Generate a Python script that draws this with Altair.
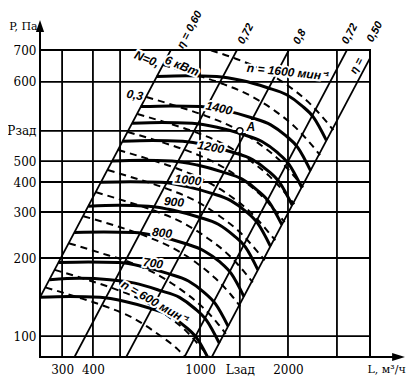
import altair as alt
import pandas as pd

# ---------------- axis ticks ----------------
X_GRID = [301, 390, 490, 959, 2008, 3030]
Y_GRID = [100, 200, 301, 393, 473, 956]
X_TICKS = [301, 390, 959, 1340, 2008]
X_LABELS = ["300", "400", "1000", "Lзад", "2000"]
Y_TICKS = [100, 200, 301, 393, 473, 619, 956, 1270]
Y_LABELS = ["100", "200", "300", "400", "500", "Рзад", "600", "700"]
L_ZAD = 1340
P_ZAD = 619

# ---------------- fan characteristics, n = const (solid) ----------------
N_SPEEDS = ["600", "650", "700", "800", "900", "1000", "1100", "1200", "1300", "1400", "1600"]
L_N = {
    "600":  [250, 321, 414, 511, 630, 745, 845, 935, 1040],
    "650":  [271, 348, 449, 554, 683, 807, 915, 1013, 1127],
    "700":  [292, 375, 483, 597, 735, 870, 987, 1092, 1215],
    "800":  [333, 428, 552, 681, 840, 993, 1127, 1247, 1387],
    "900":  [375, 482, 621, 767, 945, 1118, 1268, 1403, 1560],
    "1000": [417, 535, 690, 852, 1050, 1242, 1408, 1558, 1733],
    "1100": [458, 589, 759, 937, 1155, 1366, 1549, 1714, 1907],
    "1200": [500, 642, 828, 1022, 1260, 1490, 1690, 1870, 2080],
    "1300": [542, 696, 897, 1107, 1365, 1614, 1831, 2026, 2253],
    "1400": [583, 749, 966, 1192, 1470, 1738, 1972, 2182, 2427],
    "1600": [667, 856, 1104, 1363, 1680, 1987, 2253, 2493, 2773],
}
P_N = {
    "600":  [141, 142, 141, 136, 128, 120, 109, 98, 80],
    "650":  [165, 167, 165, 160, 150, 141, 128, 115, 94],
    "700":  [192, 193, 192, 185, 174, 163, 148, 133, 109],
    "800":  [251, 252, 251, 242, 228, 213, 194, 174, 142],
    "900":  [317, 320, 317, 306, 288, 270, 245, 221, 180],
    "1000": [392, 394, 392, 378, 356, 333, 303, 272, 222],
    "1100": [474, 477, 474, 457, 430, 403, 366, 329, 269],
    "1200": [564, 568, 564, 544, 512, 480, 436, 392, 320],
    "1300": [662, 667, 662, 639, 601, 563, 512, 460, 375],
    "1400": [768, 773, 768, 741, 697, 653, 593, 534, 435],
    "1600": [1003, 1010, 1003, 968, 910, 853, 775, 697, 569],
}

# ---------------- power lines, N = const (dashed) ----------------
L_D = {
    "d0":  [787, 1013, 1302, 1648, 2016, 2385, 2723, 2939],
    "d1":  [704, 906, 1165, 1474, 1804, 2133, 2436, 2629],
    "d2":  [611, 786, 1011, 1279, 1565, 1851, 2114, 2282],
    "d3":  [567, 730, 938, 1187, 1453, 1718, 1962, 2118],
    "d4":  [523, 673, 866, 1095, 1340, 1585, 1810, 1953],
    "d5":  [483, 622, 799, 1011, 1237, 1463, 1671, 1804],
    "d6":  [442, 569, 732, 926, 1132, 1339, 1529, 1651],
    "d7":  [400, 515, 662, 838, 1025, 1212, 1384, 1494],
    "d8":  [360, 463, 596, 754, 922, 1091, 1246, 1345],
    "d9":  [319, 411, 528, 668, 817, 967, 1104, 1191],
    "d10": [283, 364, 468, 593, 725, 857, 979, 1057],
    "d11": [262, 337, 434, 549, 671, 794, 907, 979],
}
P_D = {
    "d0":  [1388, 1281, 1173, 1053, 922, 799, 687, 623],
    "d1":  [1111, 1025, 939, 843, 738, 640, 550, 499],
    "d2":  [836, 772, 706, 635, 555, 482, 414, 375],
    "d3":  [719, 664, 608, 546, 477, 414, 356, 323],
    "d4":  [613, 566, 518, 465, 407, 353, 303, 275],
    "d5":  [522, 482, 441, 396, 347, 301, 258, 234],
    "d6":  [437, 403, 369, 332, 290, 252, 216, 196],
    "d7":  [359, 331, 303, 272, 238, 207, 178, 161],
    "d8":  [290, 268, 245, 220, 193, 167, 144, 130],
    "d9":  [228, 210, 193, 173, 151, 131, 113, 102],
    "d10": [180, 166, 152, 137, 120, 104, 89, 81],
    "d11": [154, 142, 130, 117, 102, 89, 76, 69],
}

# ---------------- efficiency lines (straight, P ~ L^2) ----------------
ETA_IDS = ["0,60", "0,72a", "0,8", "0,72b", "0,50"]
ETA_L = {"0,60": [250, 770], "0,72a": [300, 1400], "0,8": [500, 2100],
         "0,72b": [800, 3400], "0,50": [1000, 4200]}
ETA_P = {"0,60": [141, 1337], "0,72a": [67, 1454], "0,8": [78, 1367],
         "0,72b": [75, 1351], "0,50": [74, 1302]}

# ---------------- annotations ----------------
CURVE_TEXT = ["N=0,", "6 кВт", "0,3", "1400", "1200", "1000", "900", "800", "700",
              "n = 600 мин⁻¹", "n = 1600 мин⁻¹", "A"]
CURVE_TEXT_L = [614, 824, 555, 1125, 1051, 867, 771, 697, 646, 657, 2008, 1471]
CURVE_TEXT_P = [1172, 1102, 851, 758, 536, 400, 329, 250, 191, 135, 1044, 640]
CURVE_TEXT_ANGLE = [22, 22, 10, 12, 10, 6, 5, 6, 8, 30, 6, 0]

ETA_TEXT = ["η = 0,60", "0,72", "0,8", "0,72", "0,50", "η ="]
ETA_TEXT_L = [881, 1411, 2221, 3380, 4170, 3585]
ETA_TEXT_P = [1517, 1464, 1426, 1464, 1491, 1102]

# ---------------- build tables ----------------
solid = pd.DataFrame([
    {"n": n, "i": i, "L": l, "P": p}
    for n in N_SPEEDS for i, (l, p) in enumerate(zip(L_N[n], P_N[n]))
])
dashed = pd.DataFrame([
    {"d": d, "i": i, "L": l, "P": p}
    for d in L_D for i, (l, p) in enumerate(zip(L_D[d], P_D[d]))
])
eta = pd.DataFrame([
    {"e": e, "i": i, "L": l, "P": p}
    for e in ETA_IDS for i, (l, p) in enumerate(zip(ETA_L[e], ETA_P[e]))
])
ctext = pd.DataFrame({"t": CURVE_TEXT, "L": CURVE_TEXT_L, "P": CURVE_TEXT_P, "a": CURVE_TEXT_ANGLE})
etext = pd.DataFrame({"t": ETA_TEXT, "L": ETA_TEXT_L, "P": ETA_TEXT_P})

xs = alt.Scale(type="log", domain=[250, 4000], nice=False)
ys = alt.Scale(type="log", domain=[83, 1270], nice=False)


def expr(vals, labs):
    s = "''"
    for v, t in reversed(list(zip(vals, labs))):
        s = f"datum.value == {v} ? '{t}' : ({s})"
    return s


xaxis = alt.Axis(values=X_TICKS, labelExpr=expr(X_TICKS, X_LABELS), title=None, grid=False,
                 ticks=False, tickSize=0, domain=False, labelFont="DejaVu Serif", labelFontSize=12,
                 labelColor="black", labelPadding=7, labelOverlap=False, labelFlush=False)
yaxis = alt.Axis(values=Y_TICKS, labelExpr=expr(Y_TICKS, Y_LABELS), title=None, grid=False,
                 ticks=False, tickSize=0, domain=False, labelFont="DejaVu Serif", labelFontSize=12,
                 labelColor="black", labelPadding=4, labelOverlap=False, labelFlush=False)


def X(f="L"):
    return alt.X(f"{f}:Q", scale=xs, axis=xaxis)


def Y(f="P"):
    return alt.Y(f"{f}:Q", scale=ys, axis=yaxis)


hgrid = alt.Chart(pd.DataFrame({"P": Y_GRID})).mark_rule(color="black", strokeWidth=1.8).encode(y=Y())
vgrid = alt.Chart(pd.DataFrame({"L": X_GRID})).mark_rule(color="black", strokeWidth=1.8).encode(x=X())
zad_h = alt.Chart(pd.DataFrame({"L": [250], "L2": [L_ZAD], "P": [P_ZAD]})).mark_rule(
    color="black", strokeWidth=1.8).encode(x=X(), x2="L2:Q", y=Y())
zad_v = alt.Chart(pd.DataFrame({"L": [L_ZAD], "P": [83], "P2": [P_ZAD]})).mark_rule(
    color="black", strokeWidth=1.8).encode(x=X(), y=Y(), y2="P2:Q")

eta_lines = alt.Chart(eta).mark_line(color="black", strokeWidth=1.8, clip=True).encode(
    x=X(), y=Y(), detail="e:N", order="i:Q")
dash_lines = alt.Chart(dashed).mark_line(color="black", strokeWidth=2, strokeDash=[7, 5],
                                         interpolate="monotone", clip=True).encode(
    x=X(), y=Y(), detail="d:N", order="i:Q")
solid_lines = alt.Chart(solid).mark_line(color="black", strokeWidth=3, interpolate="monotone",
                                         clip=True).encode(
    x=X(), y=Y(), detail="n:N", order="i:Q")

point_a = alt.Chart(pd.DataFrame({"L": [L_ZAD], "P": [P_ZAD]})).mark_point(
    shape="circle", size=40, filled=True, fill="white", stroke="black", strokeWidth=1.5, opacity=1
).encode(x=X(), y=Y())

lab_font = "'Liberation Sans Narrow', 'Liberation Sans', sans-serif"
halo = alt.Chart(ctext).mark_text(font=lab_font, fontSize=12, fontStyle="italic", fontWeight="bold",
                                  stroke="white", strokeWidth=4, color="white").encode(
    x=X(), y=Y(), text="t:N", angle=alt.Angle("a:Q", scale=None))
labels = alt.Chart(ctext).mark_text(font=lab_font, fontSize=12, fontStyle="italic", fontWeight="bold",
                                    color="black").encode(
    x=X(), y=Y(), text="t:N", angle=alt.Angle("a:Q", scale=None))
eta_labels = alt.Chart(etext).mark_text(font=lab_font, fontSize=11, fontStyle="italic",
                                        fontWeight="bold", color="black", angle=298).encode(
    x=X(), y=Y(), text="t:N")

# axis lines with arrows
y_axis_line = alt.Chart(pd.DataFrame({"L": [250], "P": [83], "P2": [1560]})).mark_rule(
    color="black", strokeWidth=2).encode(x=X(), y=Y(), y2="P2:Q")
x_axis_line = alt.Chart(pd.DataFrame({"L": [250], "L2": [5000], "P": [83]})).mark_rule(
    color="black", strokeWidth=2).encode(x=X(), x2="L2:Q", y=Y())
arrow_up = alt.Chart(pd.DataFrame({"L": [250], "P": [1551]})).mark_point(
    shape="M0,-1L0.55,0.6L-0.55,0.6Z", size=225, filled=True, color="black", opacity=1).encode(x=X(), y=Y())
arrow_right = alt.Chart(pd.DataFrame({"L": [5016], "P": [83]})).mark_point(
    shape="M1,0L-0.6,0.5L-0.6,-0.5Z", size=256, filled=True, color="black", opacity=1).encode(x=X(), y=Y())

titles = alt.Chart(pd.DataFrame({"t": ["P, Па", "L, м³/ч"], "L": [245, 5400], "P": [1560, 74]})).mark_text(
    font="DejaVu Serif", fontSize=11, color="black", align="right").encode(x=X(), y=Y(), text="t:N")

chart = alt.layer(
    hgrid, vgrid, zad_h, zad_v, eta_lines, dash_lines, solid_lines, point_a,
    halo, labels, eta_labels, y_axis_line, x_axis_line, arrow_up, arrow_right, titles
).properties(
    width=330, height=307,
    autosize=alt.AutoSizeParams(type="none"),
    padding={"left": 32, "top": 42, "right": 37, "bottom": 20},
    background="white",
).configure_view(stroke="black", strokeWidth=2)

chart.save("out.html", embed_options={"renderer": "svg", "actions": False})
